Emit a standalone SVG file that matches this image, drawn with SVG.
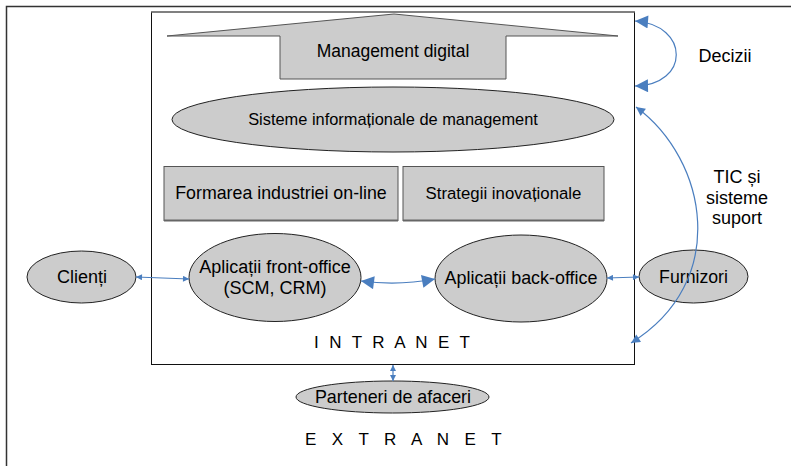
<svg xmlns="http://www.w3.org/2000/svg" width="791" height="466" viewBox="0 0 791 466">
<style>
  text { font-family: "Liberation Sans", Arial, sans-serif; fill: #000; }
  .node { fill: #cccccc; stroke: #222; stroke-width: 1; }
  .box { fill: #cccccc; stroke: #555; stroke-width: 1; }
  .conn { fill: none; stroke: #4a7ebf; stroke-width: 1.2; }
  .frame { fill: none; stroke: #333; stroke-width: 1.5; }
</style>
<defs>
  <marker id="ahS" viewBox="0 0 10 10" refX="10" refY="5" markerUnits="userSpaceOnUse" markerWidth="8" markerHeight="6" orient="auto-start-reverse">
    <path d="M0,0 L10,5 L0,10 z" fill="#4a7ebf"/>
  </marker>
  <marker id="ahM" viewBox="0 0 10 10" refX="10" refY="5" markerUnits="userSpaceOnUse" markerWidth="11" markerHeight="9" orient="auto-start-reverse">
    <path d="M0,0 L10,5 L0,10 z" fill="#4a7ebf"/>
  </marker>
  <marker id="ahL" viewBox="0 0 10 10" refX="10" refY="5" markerUnits="userSpaceOnUse" markerWidth="14" markerHeight="13" orient="auto-start-reverse">
    <path d="M0,0 L10,5 L0,10 z" fill="#4a7ebf"/>
  </marker>
</defs>
<rect width="791" height="466" fill="#fff"/>

<g id="extranet-frame">
  <path class="frame" d="M6.5,466 L6.5,6.5 L791,6.5"/>
</g>

<g id="intranet">
  <rect x="151.5" y="12" width="483" height="352.5" fill="none" stroke="#111" stroke-width="1"/>
  <line x1="151.5" y1="12" x2="634.5" y2="12" stroke="#808080" stroke-width="2"/>
  <text x="314" y="348" font-size="17" letter-spacing="2.9">I N T R A N E T</text>
</g>

<g id="management-digital">
  <polygon class="box" points="394,14 618,36 506,36 506,79 280,79 280,36 167,36" stroke="#222"/>
  <text x="393" y="57" font-size="17.5" text-anchor="middle">Management digital</text>
</g>

<g id="sisteme-informationale">
  <ellipse class="node" cx="393" cy="119.5" rx="221" ry="32.5"/>
  <text x="393" y="125" font-size="16.4" text-anchor="middle">Sisteme informaționale de management</text>
</g>

<g id="formarea-industriei">
  <rect class="box" x="164" y="166.5" width="234" height="54"/>
  <line x1="164" y1="220.5" x2="398" y2="220.5" stroke="#666" stroke-width="2"/>
  <text x="281" y="199" font-size="17.8" text-anchor="middle">Formarea industriei on-line</text>
</g>

<g id="strategii-inovationale">
  <rect class="box" x="403" y="166.5" width="201" height="54"/>
  <line x1="403" y1="220.5" x2="604" y2="220.5" stroke="#666" stroke-width="2"/>
  <text x="503.5" y="199" font-size="16.8" text-anchor="middle">Strategii inovaționale</text>
</g>

<g id="front-office">
  <ellipse class="node" cx="275" cy="277.5" rx="86" ry="44"/>
  <text x="275" y="273" font-size="18" text-anchor="middle">Aplicații front-office</text>
  <text x="275" y="294" font-size="18" text-anchor="middle">(SCM, CRM)</text>
</g>

<g id="back-office">
  <ellipse class="node" cx="521" cy="278.5" rx="86" ry="43.5"/>
  <text x="521" y="284" font-size="17.9" text-anchor="middle">Aplicații back-office</text>
</g>

<g id="clienti">
  <ellipse class="node" cx="81.5" cy="277" rx="54.5" ry="26"/>
  <text x="82" y="282.5" font-size="18" text-anchor="middle">Clienți</text>
</g>

<g id="furnizori">
  <ellipse class="node" cx="693.5" cy="276.5" rx="54.5" ry="26.5"/>
  <text x="693.5" y="283" font-size="17.7" text-anchor="middle">Furnizori</text>
</g>

<g id="parteneri">
  <ellipse class="node" cx="392.5" cy="397" rx="96.5" ry="16"/>
  <text x="393" y="403" font-size="17.9" text-anchor="middle">Parteneri de afaceri</text>
</g>

<g id="labels">
  <text x="725" y="62" font-size="18" text-anchor="middle">Decizii</text>
  <text x="737" y="183" font-size="18" text-anchor="middle">TIC și</text>
  <text x="737" y="204" font-size="18" text-anchor="middle">sisteme</text>
  <text x="737" y="224" font-size="18" text-anchor="middle">suport</text>
  <text x="305" y="445" font-size="17" letter-spacing="5.4">E X T R A N E T</text>
</g>

<g id="connectors">
  <path class="conn" d="M136,277 L189,279" marker-start="url(#ahS)" marker-end="url(#ahS)"/>
  <path class="conn" d="M361,281 Q398,286 435,279" marker-start="url(#ahL)" marker-end="url(#ahL)"/>
  <path class="conn" d="M607,278 L639,277" marker-start="url(#ahS)" marker-end="url(#ahS)"/>
  <path class="conn" d="M393,365 L393,381" marker-start="url(#ahS)" marker-end="url(#ahS)"/>
  <path class="conn" d="M635,21 C690,25 690,85 635,86" marker-start="url(#ahL)" marker-end="url(#ahL)"/>
  <path class="conn" d="M636,107 C708,160 730,282 631,343" marker-start="url(#ahM)" marker-end="url(#ahM)"/>
</g>
</svg>
